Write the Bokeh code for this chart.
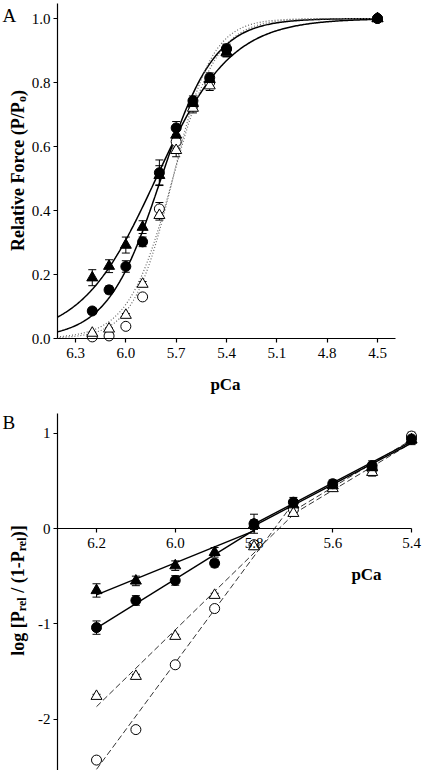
import numpy as np
from bokeh.plotting import figure
from bokeh.models import (Range1d, FixedTicker, Whisker, TeeHead, ColumnDataSource,
                          Label, NumeralTickFormatter)
from bokeh.layouts import column
from bokeh.embed import file_html
from bokeh.resources import INLINE

# ---------------- data: panel A ----------------
pca_a = [6.2, 6.1, 6.0, 5.9, 5.8, 5.7, 5.6, 5.5, 5.4, 4.5]
a_fc = [0.086, 0.152, 0.225, 0.302, 0.518, 0.658, 0.743, 0.815, 0.905, 1.0]
a_fc_err = [0.010, 0.012, 0.018, 0.015, 0.040, 0.020, 0.015, 0.015, 0.015, 0.0]
a_ft = [0.190, 0.226, 0.292, 0.348, 0.510, 0.636, 0.735, 0.810, 0.895, 1.0]
a_ft_err = [0.025, 0.020, 0.025, 0.020, 0.030, 0.020, 0.015, 0.015, 0.015, 0.0]
a_oc = [0.005, 0.008, 0.038, 0.130, 0.405, 0.615, 0.728, 0.800, 0.905, 1.0]
a_oc_err = [0.003, 0.003, 0.005, 0.008, 0.020, 0.020, 0.015, 0.015, 0.012, 0.0]
a_ot = [0.017, 0.030, 0.073, 0.170, 0.385, 0.588, 0.720, 0.790, 0.893, 1.0]
a_ot_err = [0.003, 0.003, 0.005, 0.008, 0.015, 0.020, 0.015, 0.015, 0.012, 0.0]

# Hill fit parameters (n_H, pCa50)
hill_fc = (2.7, 5.79)
hill_ft = (1.95, 5.82)
hill_oc = (3.7, 5.72)
hill_ot = (3.3, 5.72)

a_xticks = [6.3, 6.0, 5.7, 5.4, 5.1, 4.8, 4.5]
a_yticks = [0.0, 0.2, 0.4, 0.6, 0.8, 1.0]
a_xbounds = (4.393, 6.407)
a_ybounds = (0.0, 1.047)

# ---------------- data: panel B ----------------
pca_b = [6.2, 6.1, 6.0, 5.9, 5.8, 5.7, 5.6, 5.5, 5.4]
b_fc = [-1.04, -0.755, -0.545, -0.364, 0.05, 0.276, 0.47, 0.66, 0.94]
b_fc_err = [0.07, 0.05, 0.05, 0.04, 0.10, 0.05, 0.04, 0.05, 0.05]
b_ft = [-0.65, -0.55, -0.39, -0.25, 0.04, 0.25, 0.45, 0.64, 0.93]
b_ft_err = [0.07, 0.05, 0.05, 0.05, 0.05, 0.04, 0.04, 0.05, 0.05]
b_oc = [-2.43, -2.11, -1.43, -0.84, -0.17, 0.20, 0.44, 0.62, 0.97]
b_oc_err = [0.03, 0.03, 0.02, 0.02, 0.03, 0.03, 0.03, 0.04, 0.04]
b_ot = [-1.76, -1.55, -1.13, -0.70, -0.19, 0.16, 0.42, 0.59, 0.93]
b_ot_err = [0.02, 0.02, 0.02, 0.02, 0.03, 0.03, 0.03, 0.04, 0.04]
b_break_filled = 5.8
b_break_open = 5.7

b_xticks = [6.2, 6.0, 5.8, 5.6, 5.4]
b_yticks = [-2, -1, 0, 1]
b_xbounds = (5.4, 6.299)
b_ybounds = (-2.6, 1.207)

SERIF = "Liberation Serif"

# ---------------- layout (pixels) ----------------
W = 423
A_H, B_H = 400, 370
# panel A: pCa 6.3 at x=75, 4.5 at x=377 ; P=1 at y=18, P=0 at y=338
A_PXX = (377 - 75) / (6.3 - 4.5)
A_X = (6.3 + 75 / A_PXX, 6.3 - (W - 75) / A_PXX)
A_PXY = 320.0
A_Y = (-(A_H - 338) / A_PXY, 338 / A_PXY)
# panel B: pCa 6.2 at x=96, 5.4 at x=411 ; 0 at y=128 (panel-local), 95.3 px per unit
B_PXX = (411 - 96) / 0.8
B_X = (6.2 + 96 / B_PXX, 6.2 - (W - 96) / B_PXX)
B_PXY = 95.3
B_Y = (-(B_H - 128) / B_PXY, 128 / B_PXY)


def px(xr, yr, h, fx, fy):
    x = xr[0] + fx / W * (xr[1] - xr[0])
    y = yr[1] - fy / h * (yr[1] - yr[0])
    return x, y


TB = {'R': 722, 'e': 444, 'l': 278, 'a': 500, 't': 333, 'i': 278, 'v': 500, ' ': 250,
      'F': 611, 'o': 500, 'r': 444, 'c': 444, '(': 333, 'P': 611, '/': 278, ')': 333,
      'g': 500, '[': 333, ']': 333, '1': 500, '-': 333}


def text_w(s, size):
    return sum(TB.get(c, 500) for c in s) * size / 1000.0


def rot_label(p, xr, yr, h, pieces, base_x, center_y):
    total = sum(g * 18 / 1000.0 + text_w(s, sz) for s, sz, sub, g in pieces)
    y = center_y + total / 2.0
    for s, sz, sub, g in pieces:
        y -= g * 18 / 1000.0
        fx = base_x + (4 if sub else 0)
        dx, dy = px(xr, yr, h, fx, y)
        p.add_layout(Label(x=dx, y=dy, text=s, angle=90, angle_units="deg",
                           text_align="left", text_baseline="alphabetic",
                           text_font=SERIF, text_font_style="bold",
                           text_font_size=f"{sz}px", text_color="black"))
        y -= text_w(s, sz)


def make_fig(xr, yr, h):
    p = figure(width=W, height=h, x_range=Range1d(*xr), y_range=Range1d(*yr),
               output_backend="svg", toolbar_location=None,
               min_border_left=0, min_border_right=0, min_border_top=0, min_border_bottom=0)
    p.outline_line_color = None
    p.grid.visible = False
    p.background_fill_color = "white"
    p.border_fill_color = "white"
    for ax in (p.xaxis, p.yaxis):
        ax.minor_tick_line_color = None
        ax.major_tick_in = 0
        ax.major_tick_out = 4
        ax.axis_line_width = 1.2
        ax.major_tick_line_width = 1.2
        ax.axis_line_color = "black"
        ax.major_tick_line_color = "black"
        ax.major_label_text_font = SERIF
        ax.major_label_text_font_size = "15px"
        ax.major_label_text_color = "black"
    p.yaxis.major_label_standoff = 3
    p.xaxis.major_label_standoff = 5
    return p


def add_errors(p, xs, ys, errs):
    xx = [x for x, e in zip(xs, errs) if e > 0]
    up = [y + e for y, e in zip(ys, errs) if e > 0]
    lo = [y - e for y, e in zip(ys, errs) if e > 0]
    src = ColumnDataSource(dict(x=xx, upper=up, lower=lo))
    w = Whisker(source=src, base="x", upper="upper", lower="lower", dimension="height",
                line_color="black", line_width=1,
                upper_head=TeeHead(size=8, line_color="black", line_width=1),
                lower_head=TeeHead(size=8, line_color="black", line_width=1))
    p.add_layout(w)


def add_markers(p, xs, ys, marker, filled):
    size = 10 if marker == "circle" else 11
    p.scatter(xs, ys, marker=marker, size=size,
              fill_color="black" if filled else "white",
              line_color="black", line_width=1)


def text_label(p, xr, yr, h, fx, fy, text, size, bold, align, baseline):
    dx, dy = px(xr, yr, h, fx, fy)
    p.add_layout(Label(x=dx, y=dy, text=text, text_font=SERIF,
                       text_font_style="bold" if bold else "normal",
                       text_font_size=f"{size}px", text_align=align,
                       text_baseline=baseline, text_color="black"))


# ================= Panel A =================
pA = make_fig(A_X, A_Y, A_H)
pA.xaxis.fixed_location = 0.0
pA.yaxis.fixed_location = a_xbounds[1]
pA.xaxis.bounds = a_xbounds
pA.yaxis.bounds = a_ybounds
pA.xaxis.ticker = FixedTicker(ticks=a_xticks)
pA.yaxis.ticker = FixedTicker(ticks=a_yticks)
pA.xaxis.formatter = NumeralTickFormatter(format="0.0")
pA.yaxis.formatter = NumeralTickFormatter(format="0.0")

xfit = np.linspace(4.5, a_xbounds[1], 300)
for (n, p50), dash, col, lw in [(hill_fc, "solid", "black", 1.5), (hill_ft, "solid", "black", 1.5),
                                (hill_oc, "1 2", "#666666", 1.2), (hill_ot, "1 2", "#666666", 1.2)]:
    pA.line(xfit, 1.0 / (1.0 + 10 ** (n * (xfit - p50))), line_color=col,
            line_width=lw, line_dash=dash)

for ys, es in [(a_oc, a_oc_err), (a_ot, a_ot_err), (a_fc, a_fc_err), (a_ft, a_ft_err)]:
    add_errors(pA, pca_a, ys, es)
add_markers(pA, pca_a, a_oc, "circle", False)
add_markers(pA, pca_a, a_ot, "triangle", False)
add_markers(pA, pca_a, a_ft, "triangle", True)
add_markers(pA, pca_a, a_fc, "circle", True)

text_label(pA, A_X, A_Y, A_H, 2, 4, "A", 19, False, "left", "top")
text_label(pA, A_X, A_Y, A_H, 225, 384, "pCa", 17, True, "center", "middle")
rot_label(pA, A_X, A_Y, A_H,
          [("Relative Force (P/P", 18, False, 0), ("o", 12, True, 0), (")", 18, False, 0)],
          17, 170)

# ================= Panel B =================
pB = make_fig(B_X, B_Y, B_H)
pB.xaxis.fixed_location = 0.0
pB.yaxis.fixed_location = b_xbounds[1]
pB.xaxis.bounds = b_xbounds
pB.yaxis.bounds = b_ybounds
pB.xaxis.ticker = FixedTicker(ticks=b_xticks)
pB.yaxis.ticker = FixedTicker(ticks=b_yticks)
pB.xaxis.formatter = NumeralTickFormatter(format="0.0")
pB.yaxis.formatter = NumeralTickFormatter(format="0")


def seg_fit(xs, ys, lo, hi):
    sx = np.array([x for x in xs if lo - 1e-9 <= x <= hi + 1e-9])
    sy = np.array([y for x, y in zip(xs, ys) if lo - 1e-9 <= x <= hi + 1e-9])
    k, c = np.polyfit(sx, sy, 1)
    return [hi, lo], [k * hi + c, k * lo + c]


for ys, brk, dash, col, lw in [(b_oc, b_break_open, "6 3", "#333333", 1.0),
                               (b_ot, b_break_open, "6 3", "#333333", 1.0),
                               (b_fc, b_break_filled, "solid", "black", 1.4),
                               (b_ft, b_break_filled, "solid", "black", 1.4)]:
    for lo, hi in [(brk, max(pca_b)), (min(pca_b), brk)]:
        lx_, ly_ = seg_fit(pca_b, ys, lo, hi)
        pB.line(lx_, ly_, line_color=col, line_width=lw, line_dash=dash)

for ys, es in [(b_oc, b_oc_err), (b_ot, b_ot_err), (b_fc, b_fc_err), (b_ft, b_ft_err)]:
    add_errors(pB, pca_b, ys, es)
add_markers(pB, pca_b, b_oc, "circle", False)
add_markers(pB, pca_b, b_ot, "triangle", False)
add_markers(pB, pca_b, b_ft, "triangle", True)
add_markers(pB, pca_b, b_fc, "circle", True)

text_label(pB, B_X, B_Y, B_H, 2, 11, "B", 19, False, "left", "top")
text_label(pB, B_X, B_Y, B_H, 366, 174, "pCa", 17, True, "center", "middle")
rot_label(pB, B_X, B_Y, B_H,
          [("log [P", 18, False, 0), ("rel", 12, True, 0), ("/ (1-P", 18, False, 250),
           ("rel", 12, True, 0), (")]", 18, False, 0)],
          17, 190)

layout = column(pA, pB)
open("out.html", "w").write(file_html(layout, INLINE))
